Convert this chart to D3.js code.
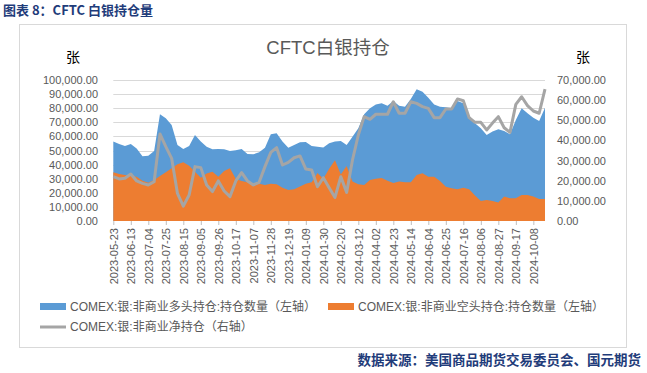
<!DOCTYPE html>
<html>
<head>
<meta charset="utf-8">
<script src="https://cdn.jsdelivr.net/npm/d3@7"></script>
<style>
  body { margin: 0; background: #fff; }
  text { font-family: "Liberation Sans", "Noto Sans CJK SC", sans-serif; }
  .cjk { font-family: "Noto Sans CJK SC", sans-serif; }
</style>
</head>
<body>
<div id="chart"></div>
<script>
const dates = [
  "2023-05-23", "2023-05-30", "2023-06-06", "2023-06-13", "2023-06-20", "2023-06-27",
  "2023-07-04", "2023-07-11", "2023-07-18", "2023-07-25", "2023-08-01", "2023-08-08",
  "2023-08-15", "2023-08-22", "2023-08-29", "2023-09-05", "2023-09-12", "2023-09-19",
  "2023-09-26", "2023-10-03", "2023-10-10", "2023-10-17", "2023-10-24", "2023-10-31",
  "2023-11-07", "2023-11-14", "2023-11-21", "2023-11-28", "2023-12-05", "2023-12-12",
  "2023-12-19", "2023-12-26", "2024-01-02", "2024-01-09", "2024-01-16", "2024-01-23",
  "2024-01-30", "2024-02-06", "2024-02-13", "2024-02-20", "2024-02-27", "2024-03-05",
  "2024-03-12", "2024-03-19", "2024-03-26", "2024-04-02", "2024-04-09", "2024-04-16",
  "2024-04-23", "2024-04-30", "2024-05-07", "2024-05-14", "2024-05-21", "2024-05-28",
  "2024-06-04", "2024-06-11", "2024-06-18", "2024-06-25", "2024-07-02", "2024-07-09",
  "2024-07-16", "2024-07-23", "2024-07-30", "2024-08-06", "2024-08-13", "2024-08-20",
  "2024-08-27", "2024-09-03", "2024-09-10", "2024-09-17", "2024-09-24", "2024-10-01",
  "2024-10-08", "2024-10-15", "2024-10-22"
];

// 非商业多头 (left axis)
const longPos = [
  56300, 54600, 53200, 54600, 51500, 45900, 46300, 49600, 75700, 72800,
  68000, 53900, 51000, 53200, 61000, 56300, 52700, 50800, 51000, 50800,
  49600, 50100, 51000, 47500, 47300, 48700, 52000, 61500, 62200, 56300,
  52000, 53900, 55800, 56000, 53200, 52700, 52200, 55100, 56300, 56700,
  53900, 59800, 65700, 75700, 79900, 82700, 83500, 81800, 85100, 81800,
  81100, 86500, 93400, 91700, 87500, 82700, 81100, 80600, 79900, 85100,
  83500, 72800, 69300, 65700, 61000, 63400, 65000, 63800, 61500, 71600,
  79900, 76400, 73300, 70900, 80400
];

// 非商业空头 (left axis)
const shortPos = [
  34500, 33300, 32600, 31900, 31400, 28600, 27200, 29100, 31900, 34500,
  37400, 40200, 41600, 39200, 35000, 30700, 33600, 35000, 31400, 35500,
  37400, 29800, 28400, 27400, 27000, 26500, 25500, 26500, 26000, 23500,
  22000, 22500, 24500, 26500, 27500, 34000, 30000, 37000, 43000, 33000,
  39000, 28000, 26000, 25500, 29000, 30000, 30500, 28500, 27000, 28000,
  27400, 27400, 32600, 33800, 31400, 31400, 28400, 24300, 23200, 22500,
  23600, 22500, 18000, 14200, 14900, 14200, 13200, 17300, 16100, 16100,
  18400, 18400, 17300, 15600, 15600
];

// 非商业净持仓 (right axis)
const netPos = [
  22000, 20900, 21200, 23300, 19900, 18700, 17900, 19500, 43200, 36900,
  31100, 13700, 7400, 12900, 27000, 26500, 17900, 14600, 19900, 14900,
  12100, 19900, 24000, 19900, 17900, 19200, 27000, 34100, 36400, 27800,
  29100, 31400, 32300, 25800, 25300, 17000, 21500, 16500, 11700, 22000,
  14200, 30300, 42700, 51800, 50500, 53000, 53000, 53000, 59200, 53500,
  53500, 59200, 58400, 56800, 55900, 51300, 51300, 55600, 55600, 60600,
  59700, 51300, 49000, 49000, 45200, 48600, 51800, 46300, 44000, 57900,
  61700, 57300, 54600, 53500, 65500
];

const leftTicks = [0, 10000, 20000, 30000, 40000, 50000, 60000, 70000, 80000, 90000, 100000];
const rightTicks = [0, 10000, 20000, 30000, 40000, 50000, 60000, 70000];
const legendNames = [
  "COMEX:银:非商业多头持仓:持仓数量（左轴）",
  "COMEX:银:非商业空头持仓:持仓数量（左轴）",
  "COMEX:银:非商业净持仓（右轴）"
];

const width = 647,
  height = 373,
  plotLeft = 113.3,
  plotRight = 545,
  plotTop = 80,
  plotBottom = 221;

const blue = "#5b9bd5",
  orange = "#ed7d31",
  grey = "#a5a5a5",
  navy = "#1f3c7a",
  axisText = "#595959";

const svg = d3
  .select("#chart")
  .append("svg")
  .attr("width", width)
  .attr("height", height);

svg.append("rect").attr("width", width).attr("height", height).attr("fill", "#fff");

// outer frame
svg
  .append("rect")
  .attr("x", 19.5)
  .attr("y", 24.5)
  .attr("width", 607)
  .attr("height", 323)
  .attr("fill", "none")
  .attr("stroke", "#d9d9d9");

svg
  .append("text")
  .attr("class", "cjk")
  .attr("x", 3)
  .attr("y", 15)
  .attr("font-size", 13)
  .attr("font-weight", "bold")
  .attr("fill", navy)
  .text("图表 8：CFTC 白银持仓量");

svg
  .append("text")
  .attr("x", 328)
  .attr("y", 54)
  .attr("text-anchor", "middle")
  .attr("font-size", 18.5)
  .attr("fill", axisText)
  .text("CFTC白银持仓");

svg
  .append("text")
  .attr("class", "cjk")
  .attr("x", 73)
  .attr("y", 62)
  .attr("text-anchor", "middle")
  .attr("font-size", 14)
  .attr("fill", "#000")
  .text("张");

svg
  .append("text")
  .attr("class", "cjk")
  .attr("x", 583)
  .attr("y", 62)
  .attr("text-anchor", "middle")
  .attr("font-size", 14)
  .attr("fill", "#000")
  .text("张");

const x = d3.scalePoint().domain(dates).range([plotLeft, plotRight]);
const yLeft = d3.scaleLinear().domain([0, 100000]).range([plotBottom, plotTop]);
const yRight = d3.scaleLinear().domain([0, 70000]).range([plotBottom, plotTop]);

// gridlines
svg
  .append("g")
  .selectAll("line")
  .data(leftTicks.slice(1))
  .enter()
  .append("line")
  .attr("x1", plotLeft)
  .attr("x2", plotRight)
  .attr("y1", (d) => Math.round(yLeft(d)) + 0.5)
  .attr("y2", (d) => Math.round(yLeft(d)) + 0.5)
  .attr("stroke", "#d9d9d9");

const fmt = d3.format(",.2f");

const leftAxis = d3.axisLeft(yLeft).tickValues(leftTicks).tickFormat(fmt).tickSize(0).tickPadding(0);
const rightAxis = d3.axisRight(yRight).tickValues(rightTicks).tickFormat(fmt).tickSize(0).tickPadding(0);

svg
  .append("g")
  .attr("transform", "translate(98,0)")
  .call(leftAxis)
  .call((g) => g.select(".domain").remove())
  .selectAll("text")
  .attr("font-size", 11)
  .attr("font-family", "Liberation Sans, sans-serif")
  .attr("fill", axisText);

svg
  .append("g")
  .attr("transform", "translate(557,0)")
  .call(rightAxis)
  .call((g) => g.select(".domain").remove())
  .selectAll("text")
  .attr("font-size", 11)
  .attr("font-family", "Liberation Sans, sans-serif")
  .attr("fill", axisText);

const longArea = d3
  .area()
  .x((d, i) => x(dates[i]))
  .y0(yLeft(0))
  .y1((d) => yLeft(d));

svg.append("path").datum(longPos).attr("d", longArea).attr("fill", blue);
svg.append("path").datum(shortPos).attr("d", longArea).attr("fill", orange);

const netLine = d3
  .line()
  .x((d, i) => x(dates[i]))
  .y((d) => yRight(d));

svg
  .append("path")
  .datum(netPos)
  .attr("d", netLine)
  .attr("fill", "none")
  .attr("stroke", grey)
  .attr("stroke-width", 3)
  .attr("stroke-linejoin", "round");

// x axis with every third date
const xAxis = d3
  .axisBottom(x)
  .tickValues(dates.filter((d, i) => i % 3 === 0))
  .tickSize(4)
  .tickPadding(3);

const xg = svg
  .append("g")
  .attr("transform", "translate(0," + plotBottom + ")")
  .call(xAxis);

xg.select(".domain").remove();
xg.selectAll(".tick line").attr("stroke", "#bfbfbf");
xg.selectAll(".tick text")
  .attr("font-size", 11)
  .attr("font-family", "Liberation Sans, sans-serif")
  .attr("fill", axisText)
  .attr("transform", "rotate(-90)")
  .attr("text-anchor", "end")
  .attr("x", -7)
  .attr("y", 0)
  .attr("dy", "0.35em");

// legend
const legendPos = [
  { x: 40, y: 306.5 },
  { x: 328, y: 306.5 },
  { x: 40, y: 327 }
];
const legendColors = [blue, orange, grey];

legendNames.forEach((name, i) => {
  const p = legendPos[i];
  if (i < 2) {
    svg
      .append("rect")
      .attr("x", p.x)
      .attr("y", p.y - 3.5)
      .attr("width", 26)
      .attr("height", 7)
      .attr("fill", legendColors[i]);
  } else {
    svg
      .append("line")
      .attr("x1", p.x)
      .attr("x2", p.x + 26)
      .attr("y1", p.y)
      .attr("y2", p.y)
      .attr("stroke", legendColors[i])
      .attr("stroke-width", 3);
  }
  svg
    .append("text")
    .attr("x", p.x + 30)
    .attr("y", p.y)
    .attr("dy", "0.35em")
    .attr("font-size", 12)
    .attr("fill", axisText)
    .text(name);
});

svg
  .append("text")
  .attr("class", "cjk")
  .attr("x", 641)
  .attr("y", 365)
  .attr("text-anchor", "end")
  .attr("font-size", 13.5)
  .attr("font-weight", "bold")
  .attr("fill", navy)
  .text("数据来源：美国商品期货交易委员会、国元期货");
</script>
</body>
</html>
